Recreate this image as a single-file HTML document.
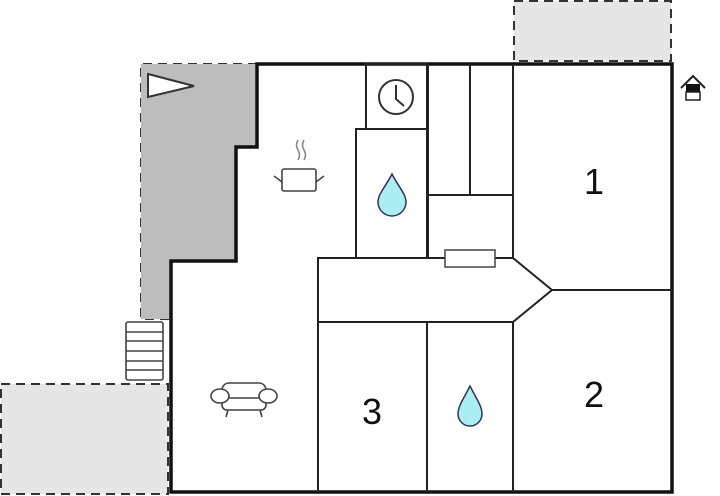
<!DOCTYPE html>
<html><head><meta charset="utf-8"><style>html,body{margin:0;padding:0;background:#fff}svg{display:block}</style></head>
<body>
<svg width="720" height="496" viewBox="0 0 720 496" xmlns="http://www.w3.org/2000/svg">
<!-- dashed outside areas -->
<rect x="514" y="1" width="157" height="60" fill="#e6e6e6" stroke="#333" stroke-width="2" stroke-dasharray="9,6"/>
<rect x="1" y="384" width="167" height="110" fill="#e6e6e6" stroke="#333" stroke-width="2" stroke-dasharray="9,6"/>
<path d="M257,64 L141,64 L141,319 L171,319" fill="none" stroke="#333" stroke-width="2" stroke-dasharray="9,6"/>
<polygon points="141,64 257,64 257,147 236,147 236,261 171,261 171,319 141,319" fill="#bdbdbd"/>
<polygon points="148,74 194,86 148,97" fill="#fff" stroke="#333" stroke-width="2"/>
<!-- outer wall -->
<path d="M257,64 L672,64 L672,492 L171,492 L171,261 L236,261 L236,147 L257,147 Z" fill="#fff" stroke="#111" stroke-width="3.5"/>
<!-- interior walls -->
<g fill="none" stroke="#222" stroke-width="2">
<rect x="366" y="64" width="61" height="65"/>
<rect x="356" y="129" width="71" height="129"/>
<line x1="428" y1="64" x2="428" y2="258"/>
<line x1="470" y1="64" x2="470" y2="195"/>
<line x1="428" y1="195" x2="513" y2="195"/>
<line x1="513" y1="64" x2="513" y2="258"/>
<path d="M318,492 L318,258 L513,258 L552,290 L513,322 L318,322"/>
<line x1="552" y1="290" x2="672" y2="290"/>
<line x1="427" y1="322" x2="427" y2="492"/>
<line x1="513" y1="322" x2="513" y2="492"/>
</g>
<rect x="445" y="250" width="50" height="17" fill="#fff" stroke="#444" stroke-width="1.5"/>
<!-- clock -->
<circle cx="396" cy="97" r="17" fill="#fff" stroke="#333" stroke-width="2"/>
<path d="M396,85 L396,99 L404,106" fill="none" stroke="#333" stroke-width="2"/>
<!-- drops -->
<path d="M392,172 C398,184 406,192 406,200 A11,11 0 0 1 378,200 C378,192 386,184 392,172 Z" fill="#aaeef4" stroke="#335" stroke-width="1.5" transform="translate(0,2)"/>
<path d="M470,386 C476,398 482,406 482,414 A12,12 0 0 1 458,414 C458,406 464,398 470,386 Z" fill="#aaeef4" stroke="#335" stroke-width="1.5"/>
<!-- pot -->
<g fill="none" stroke="#444" stroke-width="1.6">
<rect x="282" y="169" width="34" height="22" rx="2"/>
<path d="M274,176 L282,182 M324,176 L316,182"/>
<path d="M298,140 q-3,5 0,10 q3,5 0,10 M304,140 q-3,5 0,10 q3,5 0,10" stroke="#888"/>
</g>
<!-- stairs -->
<g fill="#fff" stroke="#444" stroke-width="1.6">
<rect x="126" y="322" width="37" height="58" rx="2"/>
<path d="M126,332 H163 M126,341 H163 M126,351 H163 M126,361 H163 M126,370 H163"/>
</g>
<!-- sofa -->
<g fill="#fff" stroke="#444" stroke-width="1.6">
<rect x="222" y="383" width="44" height="18" rx="7"/>
<rect x="222" y="398" width="44" height="12" rx="5"/>
<ellipse cx="220" cy="396" rx="9" ry="7"/>
<ellipse cx="268" cy="396" rx="9" ry="7"/>
<path d="M228,410 L226,417 M260,410 L262,417"/>
</g>
<!-- house icon -->
<path d="M681,88 L693,76 L705,88" fill="none" stroke="#222" stroke-width="2"/>
<rect x="686" y="84" width="14" height="8" fill="#111"/>
<rect x="686" y="92" width="14" height="8" fill="#fff" stroke="#222" stroke-width="1.5"/>
<!-- labels -->
<g font-family="Liberation Sans, sans-serif" font-size="36" fill="#111" text-anchor="middle">
<text x="594" y="194">1</text>
<text x="594" y="407">2</text>
<text x="372" y="424">3</text>
</g>
</svg>
</body></html>
